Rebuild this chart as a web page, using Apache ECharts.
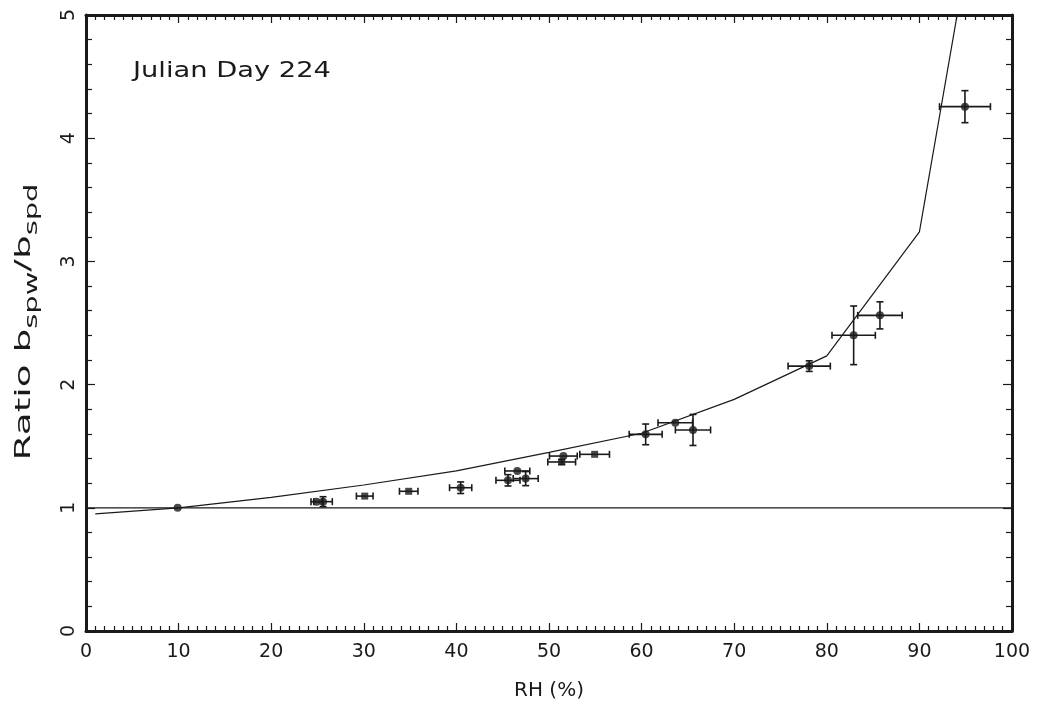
<!DOCTYPE html>
<html>
<head>
<meta charset="utf-8">
<script src="https://cdn.jsdelivr.net/npm/echarts@6/dist/echarts.min.js"></script>
<style>html,body{margin:0;padding:0;background:#fff}#c{width:1039px;height:706px}</style>
</head>
<body>
<div id="c"></div>
<script>
// Measurements
const rh       = [9.9, 24.9, 25.6, 30.1, 34.85, 40.46, 45.57, 46.58, 47.48, 51.55, 51.37, 54.93, 60.44, 63.64, 65.55, 78.1, 82.9, 85.74, 94.92];
const ratio    = [1.0, 1.05, 1.05, 1.095, 1.134, 1.163, 1.223, 1.299, 1.237, 1.42, 1.372, 1.434, 1.596, 1.69, 1.632, 2.15, 2.40, 2.562, 4.256];
const rhErr    = [0, 0.6, 1.0, 0.9, 1.0, 1.2, 1.3, 1.35, 1.35, 1.5, 1.5, 1.6, 1.78, 1.87, 1.9, 2.28, 2.34, 2.4, 2.75];
const ratioErr = [0, 0, 0.04, 0, 0, 0.047, 0.046, 0, 0.057, 0, 0.02, 0, 0.084, 0, 0.126, 0.043, 0.238, 0.11, 0.13];
const shape    = ['circle','circle','circle','rect','rect','circle','circle','circle','circle','circle','rect','rect','circle','circle','circle','circle','circle','circle','circle'];
// Model growth curve
const curveRh    = [1, 10, 20, 30, 40, 50, 60, 70, 80, 90, 95];
const curveRatio = [0.95, 1.0, 1.085, 1.185, 1.30, 1.45, 1.605, 1.88, 2.233, 3.24, 5.4];
// Reference line
const refRh = [0, 100];
const refRatio = [1, 1];
// Axes
const xRange = [0, 100], xStep = 10;
const yRange = [0, 5], yStep = 1;
const annotation = 'Julian Day 224';
const xTitle = 'RH (%)';
const yTitle = '{m|Ratio b}{s|spw}{m|/b}{s|spd}';

const ink = '#1a1a1a';
const font = 'DejaVu Sans';

const pts = rh.map((x, i) => [x, ratio[i], rhErr[i], ratioErr[i]]);
const circles = rh.map((x, i) => shape[i] === 'circle' ? [x, ratio[i]] : null).filter(Boolean);
const squares = rh.map((x, i) => shape[i] === 'rect' ? [x, ratio[i]] : null).filter(Boolean);

function axisCommon(isX, showLabel) {
  return {
    type: 'value',
    min: isX ? xRange[0] : yRange[0],
    max: isX ? xRange[1] : yRange[1],
    interval: isX ? xStep : yStep,
    axisLine: { show: true, onZero: false, lineStyle: { color: ink, width: 3 } },
    axisTick: { show: true, inside: true, length: isX ? 8 : 9, lineStyle: { color: ink, width: 1.2 } },
    minorTick: { show: true, splitNumber: isX ? 10 : 5, length: isX ? 5 : 6, lineStyle: { color: ink, width: 1.2 } },
    splitLine: { show: false },
    axisLabel: showLabel ? {
      show: true, color: ink, fontFamily: font, fontSize: 19,
      margin: isX ? 12 : 7, rotate: isX ? 0 : 90
    } : { show: false }
  };
}

const chart = echarts.init(document.getElementById('c'), null, { renderer: 'canvas' });
chart.setOption({
  animation: false,
  backgroundColor: '#fff',
  grid: { left: 86, right: 27, top: 15, bottom: 75, containLabel: false },
  xAxis: [
    Object.assign(axisCommon(true, true), {
      position: 'bottom',
      name: xTitle, nameLocation: 'middle', nameGap: 50,
      nameTextStyle: { color: ink, fontFamily: font, fontSize: 20 }
    }),
    Object.assign(axisCommon(true, false), { position: 'top' })
  ],
  yAxis: [
    Object.assign(axisCommon(false, true), { position: 'left' }),
    Object.assign(axisCommon(false, false), { position: 'right' })
  ],
  graphic: [
    {
      type: 'text', left: 133, top: 61, scaleX: 1.3, silent: true,
      style: { text: annotation, fill: ink, font: '21px "DejaVu Sans"' }
    },
    {
      type: 'text', x: 27, y: 322, rotation: Math.PI / 2, scaleX: 1.7, silent: true,
      style: {
        text: yTitle, fill: ink, align: 'center', verticalAlign: 'middle',
        font: '22px "DejaVu Sans"',
        rich: {
          m: { fontFamily: font, fontSize: 22, fill: ink, lineHeight: 28, verticalAlign: 'top' },
          s: { fontFamily: font, fontSize: 17, fill: ink, lineHeight: 28, verticalAlign: 'bottom', padding: [9, 0, 0, 0] }
        }
      }
    }
  ],
  series: [
    {
      type: 'line', name: 'ref', data: refRh.map((x, i) => [x, refRatio[i]]),
      symbol: 'none', lineStyle: { color: ink, width: 1.2 }, silent: true, z: 2
    },
    {
      type: 'line', name: 'model', data: curveRh.map((x, i) => [x, curveRatio[i]]),
      symbol: 'none', smooth: false, clip: true, lineStyle: { color: ink, width: 1.2 }, silent: true, z: 2
    },
    {
      type: 'custom', name: 'err', data: pts, z: 3, silent: true,
      renderItem: function (params, api) {
        const x = api.value(0), y = api.value(1), xe = api.value(2), ye = api.value(3);
        const c = api.coord([x, y]);
        const cap = 3.5;
        const st = { stroke: ink, lineWidth: 1.6 };
        const children = [];
        if (xe > 0) {
          const l = api.coord([x - xe, y]), r = api.coord([x + xe, y]);
          children.push({ type: 'line', shape: { x1: l[0], y1: c[1], x2: r[0], y2: c[1] }, style: st });
          children.push({ type: 'line', shape: { x1: l[0], y1: c[1] - cap, x2: l[0], y2: c[1] + cap }, style: st });
          children.push({ type: 'line', shape: { x1: r[0], y1: c[1] - cap, x2: r[0], y2: c[1] + cap }, style: st });
        }
        if (ye > 0) {
          const b = api.coord([x, y - ye]), t = api.coord([x, y + ye]);
          children.push({ type: 'line', shape: { x1: c[0], y1: b[1], x2: c[0], y2: t[1] }, style: st });
          children.push({ type: 'line', shape: { x1: c[0] - cap, y1: b[1], x2: c[0] + cap, y2: b[1] }, style: st });
          children.push({ type: 'line', shape: { x1: c[0] - cap, y1: t[1], x2: c[0] + cap, y2: t[1] }, style: st });
        }
        return { type: 'group', children: children };
      }
    },
    {
      type: 'scatter', name: 'circles', data: circles, symbol: 'circle', symbolSize: 8,
      itemStyle: { color: ink }, z: 4, silent: true
    },
    {
      type: 'scatter', name: 'squares', data: squares, symbol: 'rect', symbolSize: 7,
      itemStyle: { color: ink }, z: 4, silent: true
    }
  ]
});
</script>
</body>
</html>
